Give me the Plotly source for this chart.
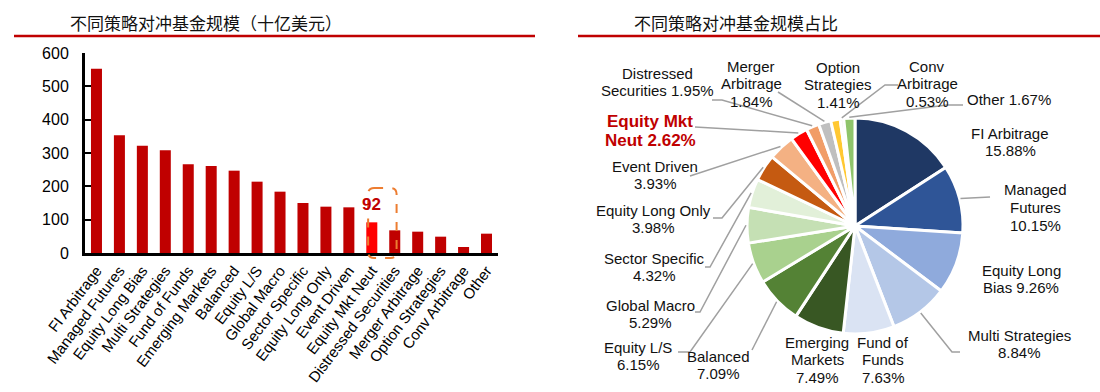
import math
import plotly.graph_objects as go

# ---------------- data ----------------
categories = ["FI Arbitrage", "Managed Futures", "Equity Long Bias", "Multi Strategies",
              "Fund of Funds", "Emerging Markets", "Balanced", "Equity L/S", "Global Macro",
              "Sector Specific", "Equity Long Only", "Event Driven", "Equity Mkt Neut",
              "Distressed Securities", "Merger Arbitrage", "Option Strategies",
              "Conv Arbitrage", "Other"]
aum_bn = [553, 353, 322, 308, 266, 261, 247, 214, 184, 150, 139, 137, 92, 68, 64, 49, 18, 58]
share_pct = [15.88, 10.15, 9.26, 8.84, 7.63, 7.49, 7.09, 6.15, 5.29, 4.32, 3.98, 3.93,
             2.62, 1.95, 1.84, 1.41, 0.53, 1.67]
y_ticks = [0, 100, 200, 300, 400, 500, 600]
highlight = "Equity Mkt Neut"

title_left = "不同策略对冲基金规模（十亿美元）"
title_right = "不同策略对冲基金规模占比"

# pie label text lines ({p} = share)
pie_label_lines = [
    ["FI Arbitrage", "{p}"], ["Managed", "Futures", "{p}"], ["Equity Long", "Bias {p}"],
    ["Multi Strategies", "{p}"], ["Fund of", "Funds", "{p}"], ["Emerging", "Markets", "{p}"],
    ["Balanced", "{p}"], ["Equity L/S", "{p}"], ["Global Macro", "{p}"],
    ["Sector Specific", "{p}"], ["Equity Long Only", "{p}"], ["Event Driven", "{p}"],
    ["Equity Mkt", "Neut {p}"], ["Distressed", "Securities {p}"], ["Merger", "Arbitrage", "{p}"],
    ["Option", "Strategies", "{p}"], ["Conv", "Arbitrage", "{p}"], ["Other {p}"],
]

# ---------------- styling / layout ----------------
W, H = 1100, 392
pie_colors = ["#1F3864", "#2F5597", "#8FAADC", "#B4C7E7", "#DAE3F3", "#385723", "#548235",
              "#A9D18E", "#C5E0B4", "#E2F0D9", "#C55A11", "#F4B183", "#FF0000", "#F19D67",
              "#BFBFBF", "#FFC832", "#EDEDED", "#8FC46B"]
PIE_CX, PIE_CY, PIE_R = 855, 226, 108          # pixels
# label placement (center x, first line y) in pixels
label_pos = [(1010, 133), (1035, 190), (1021, 270), (1019, 335), (883, 342), (817, 342),
             (718, 356), (638, 347), (650, 305), (654, 258), (653, 210), (655, 166),
             (650, 121), (657, 73), (751, 66), (838, 67), (927, 66), (1009, 100)]
# leader-line start / elbow points (pixels); empty = no leader
leader_pts = [[], [(990, 197)], [], [(960, 352), (952, 352)], [], [],
              [(752, 350)], [(678, 352), (690, 352)], [(695, 312), (700, 312)],
              [(705, 267), (710, 267)], [(713, 218), (722, 218)], [(690, 176)],
              [(695, 127)], [(712, 100), (722, 100)], [(778, 92)], [],
              [(898, 85), (885, 85)], [(963, 105), (947, 105)]]

FONT = "Liberation Sans, Arial, sans-serif"
CJK = "Noto Sans CJK SC, sans-serif"
DARK_RED = "#C00000"

def px(x):
    return x / W

def py(y):
    return 1 - y / H

fig = go.Figure()

# ---- bar chart ----
bar_colors = ["#FF0000" if c == highlight else DARK_RED for c in categories]
fig.add_trace(go.Bar(x=categories, y=aum_bn, marker=dict(color=bar_colors, line=dict(width=0)),
                     hoverinfo="x+y", xaxis="x", yaxis="y"))

# ---- pie ----
fig.add_trace(go.Pie(values=share_pct, labels=categories, sort=False, direction="clockwise",
                     rotation=0, textinfo="none", hoverinfo="label+percent",
                     marker=dict(colors=pie_colors, line=dict(color="white", width=3)),
                     domain=dict(x=[px(PIE_CX - PIE_R), px(PIE_CX + PIE_R)],
                                 y=[py(PIE_CY + PIE_R), py(PIE_CY - PIE_R)]),
                     showlegend=False))

annotations = []
shapes = []

# titles + red rules
annotations.append(dict(text=title_left, x=px(68), y=py(22), xref="paper", yref="paper",
                        xanchor="left", yanchor="middle", showarrow=False,
                        font=dict(family=CJK, size=17, color="#111")))
annotations.append(dict(text=title_right, x=px(632), y=py(22), xref="paper", yref="paper",
                        xanchor="left", yanchor="middle", showarrow=False,
                        font=dict(family=CJK, size=17, color="#111")))
for x0, x1 in [(14, 535), (578, 1100)]:
    shapes.append(dict(type="line", xref="paper", yref="paper", x0=px(x0), x1=px(x1),
                       y0=py(36), y1=py(36), line=dict(color=DARK_RED, width=2.5)))

# highlight label on bar + dashed rounded box
hi = categories.index(highlight)
annotations.append(dict(text="<b>%d</b>" % aum_bn[hi], x=highlight, y=aum_bn[hi], xref="x", yref="y",
                        yanchor="bottom", yshift=6, showarrow=False,
                        font=dict(family=FONT, size=17, color=DARK_RED)))
n = len(categories)
bx0 = (hi + 0.5 - 0.16) / n
bx1 = (hi + 0.5 + 1.08) / n
by0 = -15 / 600
by1 = 195 / 600
rx = 0.26 / n
ry = 18 / 600
path = (f"M {bx0+rx},{by1} L {bx1-rx},{by1} Q {bx1},{by1} {bx1},{by1-ry} "
        f"L {bx1},{by0+ry} Q {bx1},{by0} {bx1-rx},{by0} L {bx0+rx},{by0} "
        f"Q {bx0},{by0} {bx0},{by0+ry} L {bx0},{by1-ry} Q {bx0},{by1} {bx0+rx},{by1} Z")
shapes.append(dict(type="path", path=path, xref="x domain", yref="y domain",
                   line=dict(color="#ED7D31", width=2, dash="dash")))

# pie labels + leader lines
total = sum(share_pct)
cum = 0.0
LINE_H = 17.5
for i, s in enumerate(share_pct):
    mid = (cum + s / 2) / total * 2 * math.pi
    cum += s
    ax = PIE_CX + math.sin(mid) * (PIE_R + 1)
    ay = PIE_CY - math.cos(mid) * (PIE_R + 1)
    pts = leader_pts[i]
    if pts:
        seq = pts + [(ax, ay)]
        d = "M " + " L ".join(f"{px(x)},{py(y)}" for x, y in seq)
        shapes.append(dict(type="path", path=d, xref="paper", yref="paper",
                           line=dict(color="#A0A0A0", width=1.5)))
    ptxt = f"{s:.2f}%"
    cx, y0 = label_pos[i]
    is_hi = categories[i] == highlight
    for k, ln in enumerate(pie_label_lines[i]):
        t = ln.replace("{p}", ptxt)
        if is_hi:
            t = "<b>" + t + "</b>"
        annotations.append(dict(text=t, x=px(cx), y=py(y0 + k * (20 if is_hi else LINE_H)),
                                xref="paper", yref="paper", xanchor="center", yanchor="middle",
                                showarrow=False,
                                font=dict(family=FONT, size=17 if is_hi else 15,
                                          color=DARK_RED if is_hi else "#111")))

fig.update_layout(
    width=W, height=H, margin=dict(l=0, r=0, t=0, b=0, autoexpand=False),
    paper_bgcolor="white", plot_bgcolor="white", showlegend=False, bargap=0.52,
    font=dict(family=FONT, color="#000"),
    xaxis=dict(domain=[px(85), px(498)], type="category", range=[-0.5, n - 0.5],
               showline=True, linecolor="black", linewidth=3, ticks="", tickangle=-53,
               tickfont=dict(family=FONT, size=15, color="#000"), showgrid=False,
               fixedrange=True, automargin=False),
    yaxis=dict(domain=[py(253), py(53)], range=[0, 600], tickvals=y_ticks,
               showline=True, linecolor="black", linewidth=3, ticks="inside", ticklen=6,
               tickwidth=2, tickcolor="black", showgrid=False, zeroline=False,
               tickfont=dict(family=FONT, size=16, color="#000"), ticklabelstandoff=10,
               fixedrange=True, automargin=False),
    annotations=annotations, shapes=shapes,
)

fig.write_html("out.html", config={"displayModeBar": False},
               post_script="document.body.style.margin='0';document.body.style.overflow='hidden';")
